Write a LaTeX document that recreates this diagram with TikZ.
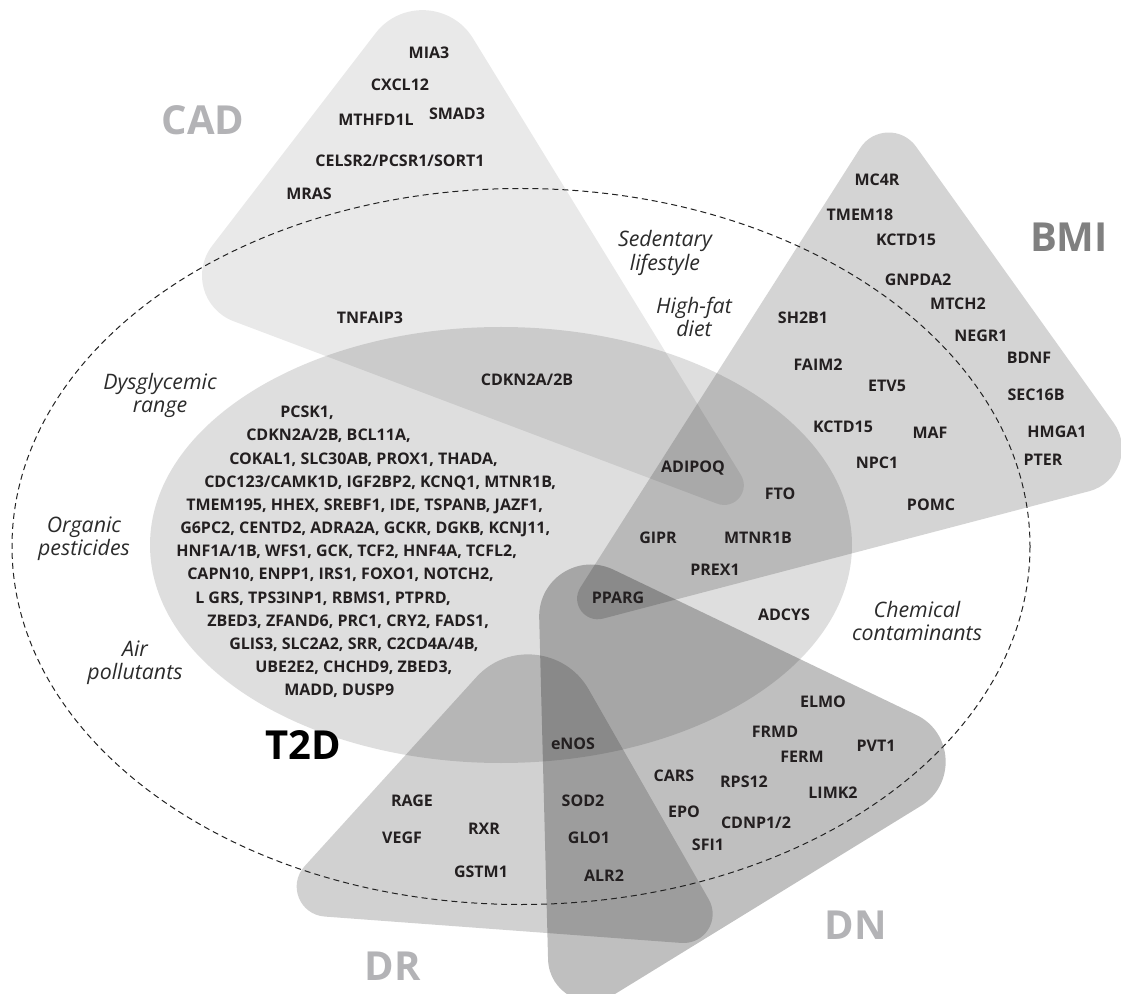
\documentclass[tikz,border=0pt]{standalone}
\usepackage{fontspec}
\setmainfont{Open Sans}
\usetikzlibrary{calc}
\definecolor{genec}{HTML}{231F20}
\definecolor{factc}{HTML}{2B2B2B}
\definecolor{lightlab}{HTML}{B3B3B6}
\definecolor{bmilab}{HTML}{808080}
\definecolor{dashc}{HTML}{222222}
\tikzset{
  gene/.style={font=\fontsize{12}{14}\selectfont\bfseries, text=genec, inner sep=0pt, text height=8.6pt, text depth=0pt},
  factor/.style={font=\fontsize{16}{17.3}\selectfont\itshape, text=factc, align=center, inner sep=0pt},
  biglab/.style={font=\fontsize{30}{34}\selectfont\bfseries, inner sep=0pt, text height=21.4pt, text depth=0pt},
  cadfill/.style={fill=black, fill opacity=0.085},
  bmifill/.style={fill=black, fill opacity=0.17},
  dnfill/.style={fill=black, fill opacity=0.25},
  drfill/.style={fill=black, fill opacity=0.18},
  t2dfill/.style={fill=black, fill opacity=0.13},
  envline/.style={draw=dashc, line width=0.75pt, dash pattern=on 4.5pt off 3pt}
}
\begin{document}
\begin{tikzpicture}[x=0.75pt,y=-0.75pt]
\useasboundingbox (0,0) rectangle (1121,994);

% ---- CAD
\coordinate (cadA) at (428,-35);
\coordinate (cadB) at (172,298);
\coordinate (cadC) at (771,524);
\fill[cadfill] ($(cadA)!64.5pt!(cadC)$) .. controls ($(cadA)!33.5pt!(cadC)$) and ($(cadA)!33.5pt!(cadB)$) .. ($(cadA)!64.5pt!(cadB)$)
  -- ($(cadB)!49.5pt!(cadA)$) .. controls ($(cadB)!24.7pt!(cadA)$) and ($(cadB)!24.7pt!(cadC)$) .. ($(cadB)!49.5pt!(cadC)$)
  -- ($(cadC)!43.5pt!(cadB)$) .. controls ($(cadC)!29pt!(cadB)$) and ($(cadC)!29pt!(cadA)$) .. ($(cadC)!43.5pt!(cadA)$)
  -- cycle;

% ---- BMI
\coordinate (bmiA) at (887,106);
\coordinate (bmiR) at (1151,475);
\coordinate (bmiT) at (552,632);
\fill[bmifill] ($(bmiA)!37.5pt!(bmiT)$) .. controls ($(bmiA)!19.5pt!(bmiT)$) and ($(bmiA)!19.5pt!(bmiR)$) .. ($(bmiA)!37.5pt!(bmiR)$)
  -- ($(bmiR)!48pt!(bmiA)$) .. controls ($(bmiR)!25pt!(bmiA)$) and ($(bmiR)!25pt!(bmiT)$) .. ($(bmiR)!48pt!(bmiT)$)
  -- ($(bmiT)!39.75pt!(bmiR)$) .. controls ($(bmiT)!25.4pt!(bmiR)$) and ($(bmiT)!25.4pt!(bmiA)$) .. ($(bmiT)!39.75pt!(bmiA)$)
  -- cycle;

% ---- DN
\coordinate (dnA) at (537,533);
\coordinate (dnR) at (1002,756);
\coordinate (dnB) at (550,1034);
\fill[dnfill] ($(dnA)!63.75pt!(dnB)$) .. controls ($(dnA)!34.4pt!(dnB)$) and ($(dnA)!34.4pt!(dnR)$) .. ($(dnA)!63.75pt!(dnR)$)
  -- ($(dnR)!71.25pt!(dnA)$) .. controls ($(dnR)!40.6pt!(dnA)$) and ($(dnR)!40.6pt!(dnB)$) .. ($(dnR)!71.25pt!(dnB)$)
  -- ($(dnB)!56pt!(dnR)$) .. controls ($(dnB)!31pt!(dnR)$) and ($(dnB)!31pt!(dnA)$) .. ($(dnB)!56pt!(dnA)$)
  -- cycle;

% ---- DR
\coordinate (drA) at (541,606);
\coordinate (drL) at (263,912);
\coordinate (drR) at (736,947);
\fill[drfill] ($(drA)!72pt!(drR)$) .. controls ($(drA)!36.7pt!(drR)$) and ($(drA)!36.7pt!(drL)$) .. ($(drA)!72pt!(drL)$)
  -- ($(drL)!46.5pt!(drA)$) .. controls ($(drL)!27.4pt!(drA)$) and ($(drL)!27.4pt!(drR)$) .. ($(drL)!46.5pt!(drR)$)
  -- ($(drR)!41.25pt!(drL)$) .. controls ($(drR)!23.5pt!(drL)$) and ($(drR)!23.5pt!(drA)$) .. ($(drR)!41.25pt!(drA)$)
  -- cycle;

% ---- T2D
\fill[t2dfill] (501,545) ellipse [x radius=351, y radius=218];

% ---- environment (dashed)
\draw[envline] (521,546.5) ellipse [x radius=509, y radius=358];

% ---- big labels
\node[biglab, text=lightlab] (labCAD) at (203,120) {CAD};
\node[biglab, text=bmilab] (labBMI) at (1069,237) {BMI};
\node[biglab, text=lightlab] (labDN) at (856,925) {DN};
\node[biglab, text=lightlab] (labDR) at (393,966) {DR};
\node[biglab, text=black] (labT2D) at (303,745) {T2D};

% ---- CAD genes
\node[gene] (g1) at (429,53) {MIA3};
\node[gene] (g2) at (400,85) {CXCL12};
\node[gene] (g3) at (376,120) {MTHFD1L};
\node[gene] (g4) at (457,114) {SMAD3};
\node[gene] (g5) at (400,161) {CELSR2/PCSR1/SORT1};
\node[gene] (g6) at (309,194) {MRAS};
\node[gene] (g7) at (370,318) {TNFAIP3};
\node[gene] (g8) at (527,380) {CDKN2A/2B};

% ---- BMI genes
\node[gene] (b1) at (877,180) {MC4R};
\node[gene] (b2) at (860,215) {TMEM18};
\node[gene] (b3) at (906,240) {KCTD15};
\node[gene] (b4) at (918,280) {GNPDA2};
\node[gene] (b5) at (958,304) {MTCH2};
\node[gene] (b6) at (981,336) {NEGR1};
\node[gene] (b7) at (1029,358) {BDNF};
\node[gene] (b8) at (1036,395) {SEC16B};
\node[gene] (b9) at (1057,432) {HMGA1};
\node[gene] (b10) at (1043,460) {PTER};
\node[gene] (b11) at (803,318) {SH2B1};
\node[gene] (b12) at (818,365) {FAIM2};
\node[gene] (b13) at (887,386) {ETV5};
\node[gene] (b14) at (843,427) {KCTD15};
\node[gene] (b15) at (930,433) {MAF};
\node[gene] (b16) at (877,463) {NPC1};
\node[gene] (b17) at (931,505) {POMC};
\node[gene] (b18) at (693,467) {ADIPOQ};
\node[gene] (b19) at (780,494) {FTO};
\node[gene] (b20) at (658,538) {GIPR};
\node[gene] (b21) at (758,538) {MTNR1B};
\node[gene] (b22) at (715,570) {PREX1};
\node[gene] (b23) at (618,598) {PPARG};
\node[gene] (b24) at (784,615) {ADCYS};

% ---- DN genes
\node[gene] (n1) at (823,702) {ELMO};
\node[gene] (n2) at (775,732) {FRMD};
\node[gene] (n3) at (802,757) {FERM};
\node[gene] (n4) at (876,746) {PVT1};
\node[gene] (n5) at (674,776) {CARS};
\node[gene] (n6) at (744,782) {RPS12};
\node[gene] (n7) at (833,793) {LIMK2};
\node[gene] (n8) at (684,812) {EPO};
\node[gene] (n9) at (756,823) {CDNP1/2};
\node[gene] (n10) at (708,845) {SFI1};
\node[gene] (n11) at (573,744) {eNOS};
\node[gene] (n12) at (583,801) {SOD2};
\node[gene] (n13) at (589,838) {GLO1};
\node[gene] (n14) at (604,876) {ALR2};

% ---- DR genes
\node[gene] (r1) at (412,801) {RAGE};
\node[gene] (r2) at (402,838) {VEGF};
\node[gene] (r3) at (484,829) {RXR};
\node[gene] (r4) at (481,872) {GSTM1};

% ---- T2D gene list
\node[gene, anchor=west] (t1) at (280,412) {PCSK1,};
\node[gene, anchor=west] (t2) at (246,435.2) {CDKN2A/2B, BCL11A,};
\node[gene, anchor=west] (t3) at (229,458.3) {COKAL1, SLC30AB, PROX1, THADA,};
\node[gene, anchor=west] (t4) at (204,481.5) {CDC123/CAMK1D, IGF2BP2, KCNQ1, MTNR1B,};
\node[gene, anchor=west] (t5) at (186,504.7) {TMEM195, HHEX, SREBF1, IDE, TSPANB, JAZF1,};
\node[gene, anchor=west] (t6) at (180,527.8) {G6PC2, CENTD2, ADRA2A, GCKR, DGKB, KCNJ11,};
\node[gene, anchor=west] (t7) at (176,551) {HNF1A/1B, WFS1, GCK, TCF2, HNF4A, TCFL2,};
\node[gene, anchor=west] (t8) at (187,574.2) {CAPN10, ENPP1, IRS1, FOXO1, NOTCH2,};
\node[gene, anchor=west] (t9) at (195,597.4) {L GRS, TPS3INP1, RBMS1, PTPRD,};
\node[gene, anchor=west] (t10) at (207,620.5) {ZBED3, ZFAND6, PRC1, CRY2, FADS1,};
\node[gene, anchor=west] (t11) at (229,643.7) {GLIS3, SLC2A2, SRR, C2CD4A/4B,};
\node[gene, anchor=west] (t12) at (255,666.9) {UBE2E2, CHCHD9, ZBED3,};
\node[gene, anchor=west] (t13) at (284,690) {MADD, DUSP9};

% ---- environmental factors
\node[factor] (f1) at (160,395) {Dysglycemic\\range};
\node[factor] (f2) at (84,539) {Organic\\pesticides};
\node[factor] (f3) at (135,663) {Air\\pollutants};
\node[factor] (f4) at (665,253) {Sedentary\\lifestyle};
\node[factor] (f5) at (694,317) {High-fat\\diet};
\node[factor] (f6) at (917,621) {Chemical\\contaminants};
\end{tikzpicture}
\end{document}
